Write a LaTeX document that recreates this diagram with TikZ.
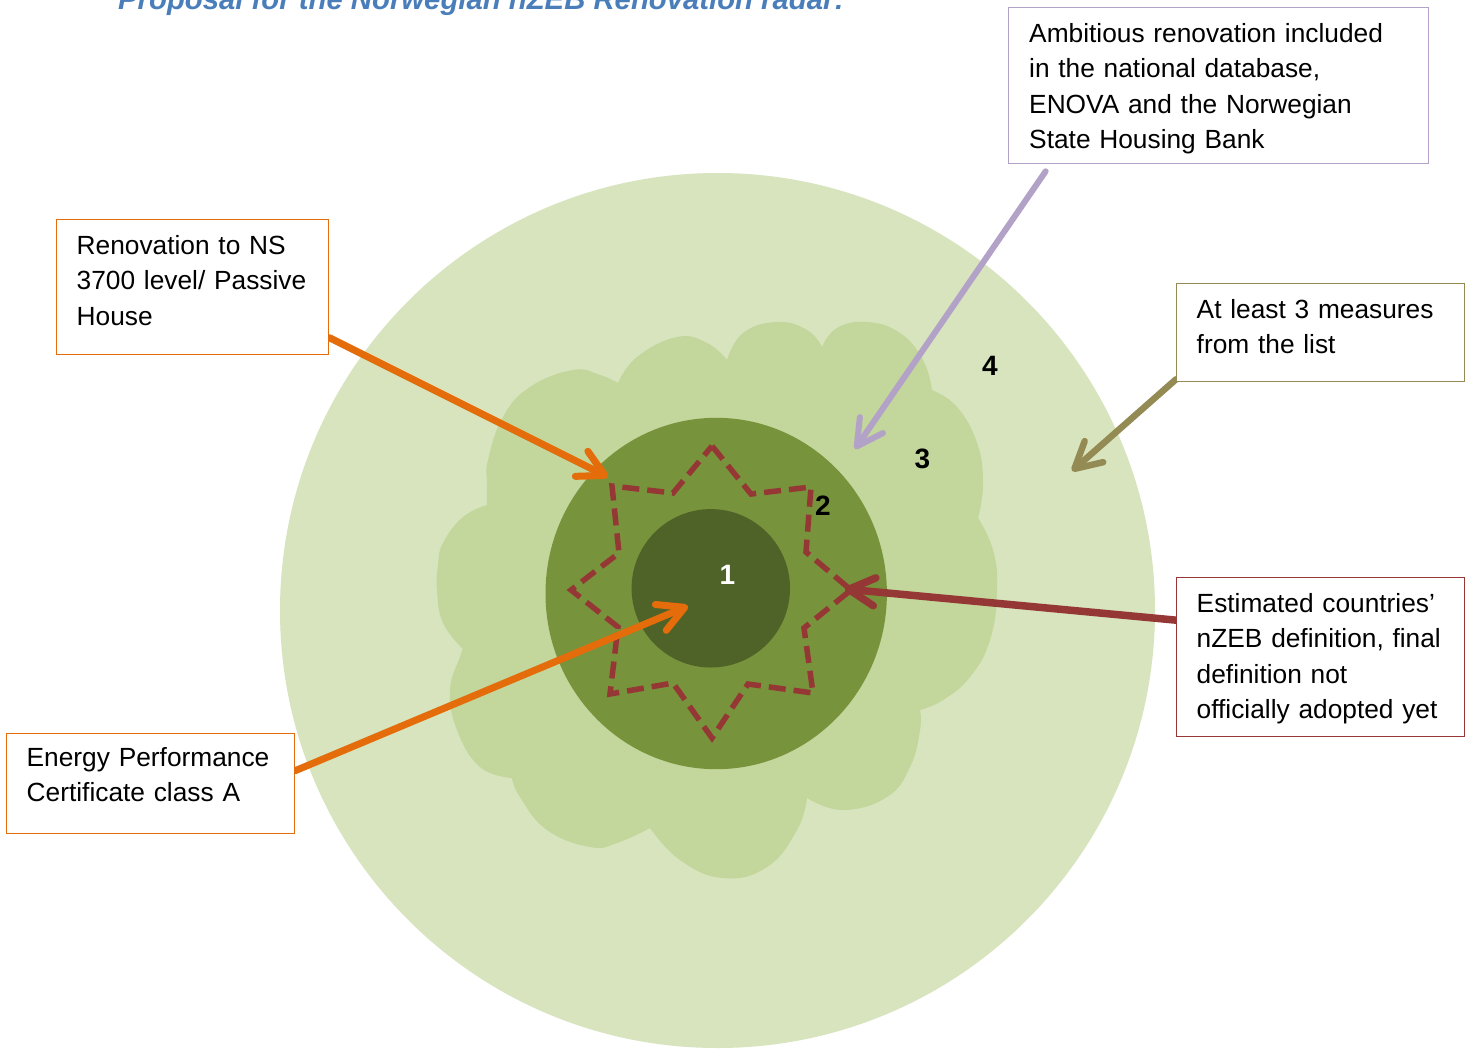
\documentclass[tikz,border=0pt]{standalone}
\usepackage{fontspec}
\setmainfont{Liberation Sans}
\usetikzlibrary{arrows.meta}
\definecolor{ringD}{HTML}{D7E4BD}
\definecolor{cloudC}{HTML}{C3D69B}
\definecolor{ringB}{HTML}{77933C}
\definecolor{coreA}{HTML}{4F6228}
\definecolor{starR}{HTML}{953735}
\definecolor{orng}{HTML}{E46C0A}
\definecolor{purp}{HTML}{B3A2C7}
\definecolor{olv}{HTML}{948A54}
\definecolor{titleB}{HTML}{4A7EBB}
\pgfdeclarelayer{back}
\pgfdeclarelayer{mid}
\pgfsetlayers{back,mid,main}
\begin{document}
\begin{tikzpicture}[x=1pt,y=-1pt,
  boxo/.style={draw, line width=1.3pt, fill=white, inner sep=0pt, anchor=north west},
  txt/.style={anchor=base west, inner sep=0pt, text width=440pt, align=left,
              font=\fontsize{26.3}{35.3}\selectfont},
  num/.style={anchor=base, inner sep=0pt, font=\bfseries\fontsize{28}{30}\selectfont},
  conn/.style={line cap=round, -{Straight Barb[length=26pt,width=28pt,round]}},
  starline/.style={draw=starR, line width=5.5pt, dash pattern=on 17pt off 8pt},
  lobe/.style={smooth, tension=0.75},
]
\useasboundingbox (0,0) rectangle (1472,1050);
\clip (0,0) rectangle (1472,1050);

\begin{pgfonlayer}{back}
\fill[white] (0,0) rectangle (1472,1050);
% rings
\fill[ringD] (717.5,610.5) circle[radius=437.5pt];
\fill[cloudC]
  plot[lobe] coordinates {(463,649) (443,623) (437,590) (438,565) (443,543) (463,517) (487,505)}
  -- plot[lobe] coordinates {(487,505) (487,483) (488,460) (503,417) (530,387) (573,370) (600,375) (618,383)}
  -- plot[lobe] coordinates {(618,383) (637,357) (677,337) (707,343) (727,360)}
  -- plot[lobe] coordinates {(727,360) (743,333) (777,322) (807,330) (822,347)}
  -- plot[lobe] coordinates {(822,347) (837,328) (867,322) (900,333) (923,360) (932,390)}
  -- plot[lobe] coordinates {(932,390) (957,407) (977,443) (983,483) (978,518)}
  -- plot[lobe] coordinates {(978,518) (993,550) (997,590) (990,640) (970,677) (943,700) (920,710)}
  -- plot[lobe] coordinates {(920,710) (920,730) (910,767) (887,797) (843,810) (807,798)}
  -- plot[lobe] coordinates {(807,798) (797,830) (767,867) (723,878) (680,860) (650,828)}
  -- plot[lobe] coordinates {(650,828) (617,843) (590,847) (547,830) (520,797) (512,778)}
  -- plot[lobe] coordinates {(512,778) (480,767) (457,730) (450,690) (460,657) (463,649)}
  -- cycle;
\fill[ringB] (716.2,593.5) ellipse[x radius=170.7pt, y radius=175.7pt];
\fill[coreA] (710.8,588.3) circle[radius=79.2pt];
% star
\draw[starline] (712,446) -- (751,494) -- (811,487) -- (806,552) -- (851,590)
  -- (804,628) -- (813,693) -- (748,684) -- (712,738) -- (673,683)
  -- (610,694) -- (618,627) -- (571,590) -- (619,553) -- (612,486)
  -- (673,493) -- cycle;
% numbers
\node[num, text=white] (n1) at (727.5,584) {1};
\node[num] (n2) at (823,515) {2};
\node[num] (n3) at (922.5,468) {3};
\node[num] (n4) at (990,375) {4};
\end{pgfonlayer}

% boxes
\node[boxo, draw=orng, minimum width=272pt, minimum height=135pt] (b1) at (56,219) {};
\node[boxo, draw=orng, minimum width=288pt, minimum height=100pt] (b2) at (6,733) {};
\node[boxo, draw=purp, minimum width=420pt, minimum height=156pt] (b3) at (1008,7) {};
\node[boxo, draw=olv, minimum width=288pt, minimum height=98pt] (b4) at (1176,283) {};
\node[boxo, draw=starR, minimum width=288pt, minimum height=159pt] (b5) at (1176,577) {};

% arrow tips
\coordinate (t1) at (608,477);
\coordinate (t2) at (688,606);
\coordinate (t3) at (855,449);
\coordinate (t4) at (1072,471);
\coordinate (t5) at (845,589);

% connectors
\begin{pgfonlayer}{mid}
\draw[conn, orng, line width=7pt] ([yshift=-50.5pt]b1.east) -- (t1);
\draw[conn, orng, line width=7pt] ([yshift=13pt]b2.east) -- (t2);
\draw[conn, purp, line width=6pt] ([xshift=-173pt,yshift=-7pt]b3.south) -- (t3);
\draw[conn, olv, line width=6.5pt] ([yshift=3pt]b4.south west) -- (t4);
\draw[conn, starR, line width=7.5pt] ([yshift=37pt]b5.west) -- (t5);
\end{pgfonlayer}

% texts
\node[txt] (x1) at (76.5,254.5) {Renovation to NS\\3700 level/ Passive\\House};
\node[txt] (x2) at (26.5,766.5) {Energy Performance\\Certificate class A};
\node[txt] (x3) at (1029,42.5) {Ambitious renovation included\\in the national database,\\ENOVA and the Norwegian\\State Housing Bank};
\node[txt] (x4) at (1196.5,318.5) {At least 3 measures\\from the list};
\node[txt] (x5) at (1196.5,612.5) {Estimated countries’\\nZEB definition, final\\definition not\\officially adopted yet};

% title
\node[anchor=base west, inner sep=0pt, text=titleB,
      font=\bfseries\itshape\fontsize{29.3}{32}\selectfont] (title) at (118,9)
      {Proposal for the Norwegian nZEB Renovation radar:};
\end{tikzpicture}
\end{document}
